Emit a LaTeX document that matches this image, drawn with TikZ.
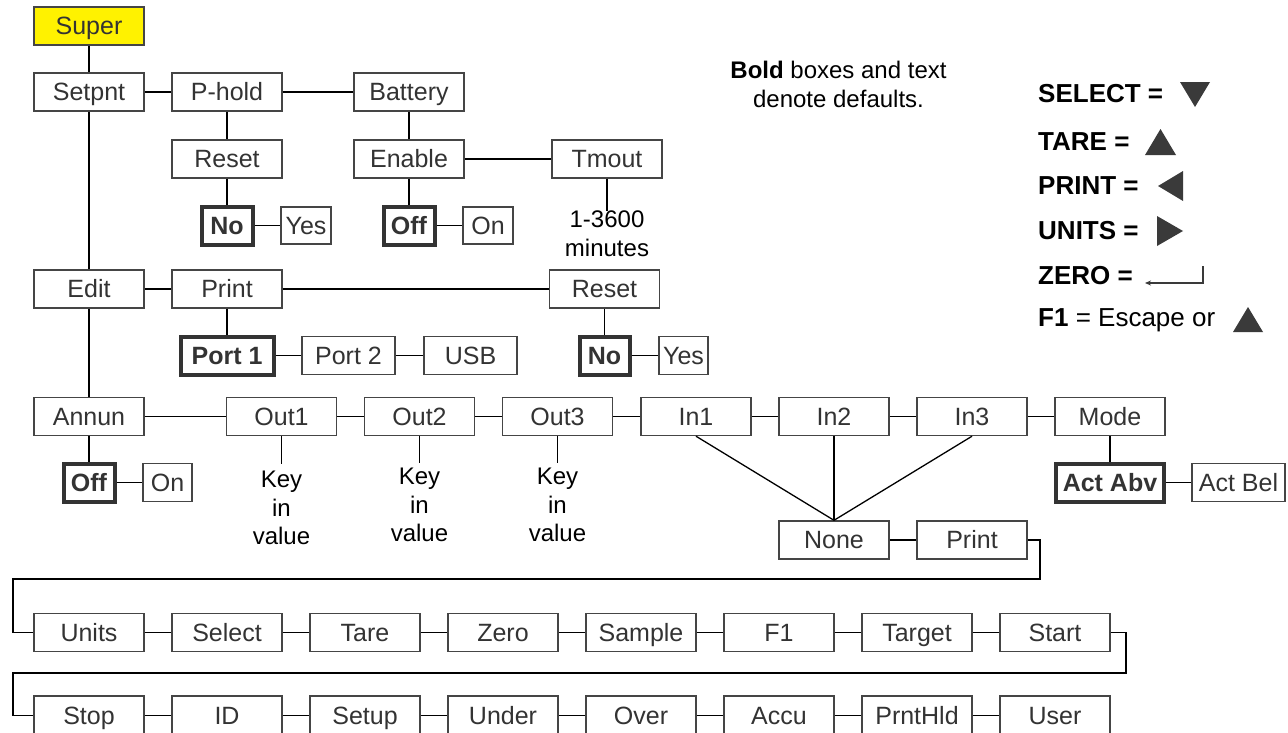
\documentclass[tikz,border=0pt]{standalone}
\usepackage{fontspec}
\setmainfont{Liberation Sans}
\usetikzlibrary{arrows.meta}
\definecolor{bordergray}{HTML}{454545}
\definecolor{txtgray}{HTML}{333333}
\definecolor{superyellow}{HTML}{FFF200}
\definecolor{trigray}{HTML}{3A3A3A}
\begin{document}
\begin{tikzpicture}[x=1pt,y=-1pt,
  bx/.style={draw=bordergray, line width=1.4pt, fill=white, text=txtgray, inner sep=0pt,
     minimum width=110, minimum height=38, text height=17.9pt, text depth=0pt,
     font=\fontsize{25}{28}\selectfont},
  bbx/.style={bx, line width=4pt, draw=txtgray, font=\fontsize{25}{28}\selectfont\bfseries},
  conn/.style={line width=1.5pt, draw=black},
  note/.style={align=center, inner sep=0pt, text=black, font=\fontsize{24}{28.5}\selectfont},
  legend/.style={anchor=base west, inner sep=0pt, text=black, font=\fontsize{26}{30}\selectfont},
  tri/.style={fill=trigray, draw=none}]
\clip (0,0) rectangle (1288,732);
\fill[white] (0,0) rectangle (1288,732);

% top tree
\node[bx, fill=superyellow] (super) at (89,26) {Super};
\node[bx] (setpnt) at (89,92) {Setpnt};
\node[bx] (phold) at (227,92) {P-hold};
\node[bx] (battery) at (409,92) {Battery};
\node[bx] (reset1) at (227,159) {Reset};
\node[bx] (enable) at (409,159) {Enable};
\node[bx] (tmout) at (607,159) {Tmout};
\node[bbx, minimum width=51] (no1) at (227,225.5) {No};
\node[bx, minimum width=50, minimum height=37] (yes1) at (306,225.5) {Yes};
\node[bbx, minimum width=51] (off1) at (409,225.5) {Off};
\node[bx, minimum width=50, minimum height=37] (on1) at (488,225.5) {On};
\node[note, anchor=north] (mins) at (607,211) {1-3600\\minutes};

\node[bx] (edit) at (89,289) {Edit};
\node[bx] (print1) at (227,289) {Print};
\node[bx] (reset2) at (604.5,289) {Reset};
\node[bbx, minimum width=93] (port1) at (227,355.5) {Port 1};
\node[bx, minimum width=93] (port2) at (348.5,355.5) {Port 2};
\node[bx, minimum width=93] (usb) at (470.5,355.5) {USB};
\node[bbx, minimum width=50] (no2) at (604.5,355.5) {No};
\node[bx, minimum width=49] (yes2) at (683.5,355.5) {Yes};

\node[bx] (annun) at (89,416.5) {Annun};
\node[bx] (out1) at (281.5,416.5) {Out1};
\node[bx] (out2) at (419.5,416.5) {Out2};
\node[bx] (out3) at (557.5,416.5) {Out3};
\node[bx] (in1) at (696,416.5) {In1};
\node[bx] (in2) at (834,416.5) {In2};
\node[bx] (in3) at (972,416.5) {In3};
\node[bx] (mode) at (1110,416.5) {Mode};
\node[bbx, minimum width=51] (off2) at (89,482.5) {Off};
\node[bx, minimum width=49] (on2) at (167.5,482.5) {On};
\node[bbx, minimum width=108] (actabv) at (1110,482.5) {Act Abv};
\node[bx, minimum width=93] (actbel) at (1238.5,482.5) {Act Bel};
\node[note, anchor=north, outer ysep=7.4pt] (key1) at (281.5,464) {Key\\in\\value};
\node[note, anchor=north, outer ysep=5.4pt] (key2) at (419.5,463) {Key\\in\\value};
\node[note, anchor=north, outer ysep=5.4pt] (key3) at (557.5,463) {Key\\in\\value};

\node[bx] (none) at (834,540) {None};
\node[bx] (print3) at (972,540) {Print};

% bottom rows
\foreach \n/\t [count=\i from 0] in {units/Units, select/Select, tare/Tare, zero/Zero, sample/Sample, fone/F1, target/Target, start/Start}
  \node[bx] (\n) at (89+138*\i,632.5) {\t};
\foreach \n/\t [count=\i from 0] in {stop/Stop, id/ID, setup/Setup, under/Under, over/Over, accu/Accu, prnthld/PrntHld, user/User}
  \node[bx, minimum height=39] (\n) at (89+138*\i,715.5) {\t};

% connectors
\draw[conn] (super) -- (setpnt);
\draw[conn] (setpnt) -- (phold);
\draw[conn] (phold) -- (battery);
\draw[conn] (phold) -- (reset1);
\draw[conn] (reset1) -- (no1);
\draw[conn] (no1) -- (yes1);
\draw[conn] (battery) -- (enable);
\draw[conn] (enable) -- (tmout);
\draw[conn] (enable) -- (off1);
\draw[conn] (off1) -- (on1);
\draw[conn] (tmout) -- (mins);
\draw[conn] (setpnt) -- (edit);
\draw[conn] (edit) -- (print1);
\draw[conn] (print1) -- (reset2);
\draw[conn] (print1) -- (port1);
\draw[conn] (port1) -- (port2);
\draw[conn] (port2) -- (usb);
\draw[conn] (reset2) -- (no2);
\draw[conn] (no2) -- (yes2);
\draw[conn] (edit) -- (annun);
\draw[conn] (annun) -- (off2);
\draw[conn] (off2) -- (on2);
\draw[conn] (annun) -- (out1);
\draw[conn] (out1) -- (out2);
\draw[conn] (out2) -- (out3);
\draw[conn] (out3) -- (in1);
\draw[conn] (in1) -- (in2);
\draw[conn] (in2) -- (in3);
\draw[conn] (in3) -- (mode);
\draw[conn] (out1.south) -- (key1.north);
\draw[conn] (out2.south) -- (key2.north);
\draw[conn] (out3.south) -- (key3.north);
\draw[line width=1.3pt] (in1.south) -- (none.north);
\draw[conn] (in2.south) -- (none.north);
\draw[line width=1.3pt] (in3.south) -- (none.north);
\draw[conn] (mode) -- (actabv);
\draw[conn] (actabv) -- (actbel);
\draw[conn] (none) -- (print3);
\coordinate (p1) at (1040,579);
\coordinate (p2) at (13,579);
\draw[conn] (print3.east) -| (p1) -- (p2) |- (units.west);
\draw[conn] (units) -- (select);
\draw[conn] (select) -- (tare);
\draw[conn] (tare) -- (zero);
\draw[conn] (zero) -- (sample);
\draw[conn] (sample) -- (fone);
\draw[conn] (fone) -- (target);
\draw[conn] (target) -- (start);
\coordinate (q1) at (1126,673);
\coordinate (q2) at (13,673);
\draw[conn] (start.east) -| (q1) -- (q2) |- (stop.west);
\draw[conn] (stop) -- (id);
\draw[conn] (id) -- (setup);
\draw[conn] (setup) -- (under);
\draw[conn] (under) -- (over);
\draw[conn] (over) -- (accu);
\draw[conn] (accu) -- (prnthld);
\draw[conn] (prnthld) -- (user);

% note
\node[note, anchor=north] (defnote) at (838.5,61) {\textbf{Bold} boxes and text\\denote defaults.};

% legend
\node[legend] (lsel) at (1038,102) {\textbf{SELECT =}};
\fill[tri] (1180,82) -- (1210,82) -- (1195,107) -- cycle;
\node[legend] (ltare) at (1038,150) {\textbf{TARE =}};
\fill[tri] (1145,155) -- (1176,155) -- (1160.5,129) -- cycle;
\node[legend] (lprint) at (1038,194) {\textbf{PRINT =}};
\fill[tri] (1183,171) -- (1183,201) -- (1158,186) -- cycle;
\node[legend] (lunits) at (1038,239) {\textbf{UNITS =}};
\fill[tri] (1157,216) -- (1157,246) -- (1183,231) -- cycle;
\node[legend] (lzero) at (1038,284) {\textbf{ZERO =}};
\draw[line width=1.2pt, trigray, -{Stealth[length=6pt,width=5pt]}] (1203,266) |- (1145,283);
\node[legend] (lf1) at (1038,326) {\textbf{F1} = Escape or};
\fill[tri] (1233,332) -- (1263,332) -- (1248,307) -- cycle;
\end{tikzpicture}
\end{document}
